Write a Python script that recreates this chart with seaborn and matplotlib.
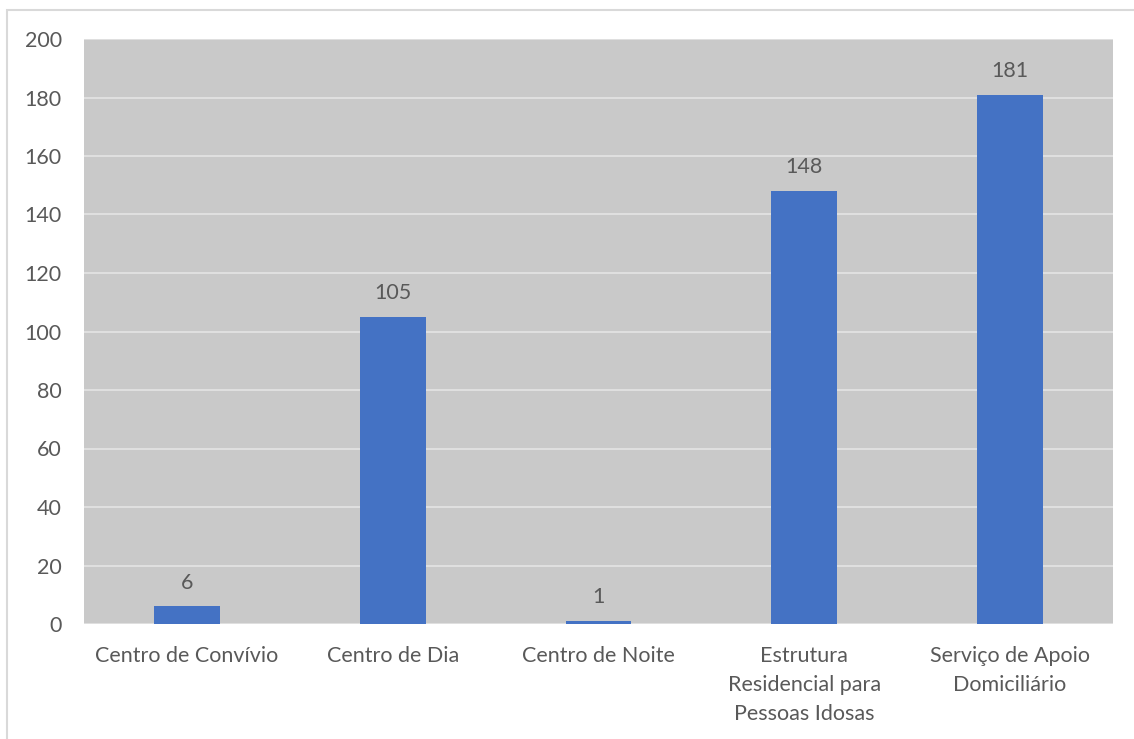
import matplotlib
matplotlib.use("Agg")
import matplotlib.pyplot as plt
from matplotlib.patches import Rectangle
import seaborn as sns
import pandas as pd

categories = [
    "Centro de Convívio",
    "Centro de Dia",
    "Centro de Noite",
    "Estrutura\nResidencial para\nPessoas Idosas",
    "Serviço de Apoio\nDomiciliário",
]
values = [6, 105, 1, 148, 181]
y_ticks = [0, 20, 40, 60, 80, 100, 120, 140, 160, 180, 200]

df = pd.DataFrame({"categoria": categories, "valor": values})

sns.set_theme(style="whitegrid")
plt.rcParams["font.family"] = ["Lato", "DejaVu Sans"]

text_color = "#595959"
bar_color = "#4472c4"
fs = 15.5

W, H = 1134, 739
fig = plt.figure(figsize=(W / 100, H / 100), dpi=100)
fig.patch.set_facecolor("white")
ax = fig.add_axes([84 / W, 1 - 624 / H, (1113 - 84) / W, (624 - 39) / H])
ax.set_facecolor("#c9c9c9")

sns.barplot(data=df, x="categoria", y="valor", color=bar_color,
            width=0.32, saturation=1, linewidth=0, ax=ax, zorder=3)

ax.set_ylim(0, 200)
ax.set_yticks(y_ticks)
ax.set_xlim(-0.5, len(categories) - 0.5)
ax.grid(axis="y", color="#e2e2e2", linewidth=1.3, zorder=0)
ax.grid(axis="x", visible=False)
ax.set_axisbelow(True)
for s in ax.spines.values():
    s.set_visible(False)
ax.set_xlabel("")
ax.set_ylabel("")
ax.tick_params(axis="both", length=0, labelsize=fs, colors=text_color)
ax.tick_params(axis="y", pad=16)
ax.tick_params(axis="x", pad=16)
for lbl in ax.get_xticklabels():
    lbl.set_linespacing(1.55)

for i, v in enumerate(values):
    ax.annotate(str(v), (i, v), xytext=(0, 10), textcoords="offset points",
                ha="center", va="bottom", fontsize=fs, color=text_color)

# outer chart frame
fig.patches.append(Rectangle((7 / W, -0.1), 1.2, (H - 10) / H + 0.1,
                             transform=fig.transFigure, fill=False,
                             edgecolor="#d9d9d9", linewidth=1.5))

fig.savefig("out.png", dpi=100)
